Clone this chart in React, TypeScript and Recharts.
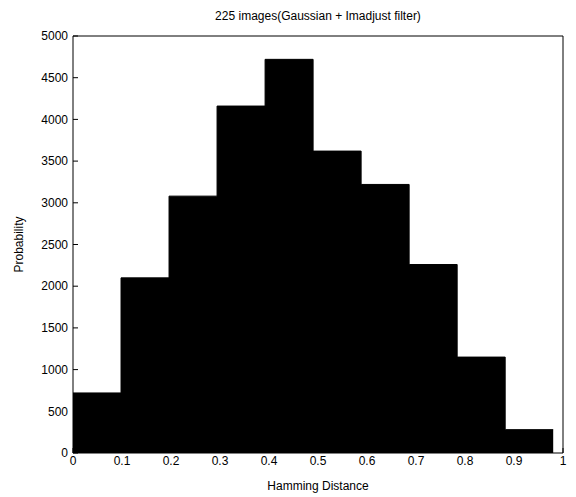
import React from 'react';
import { ComposedChart, Area, XAxis, YAxis, Label } from 'recharts';

// bin edges (0 .. 0.98) and counts per bin
const EDGES = [0, 0.098, 0.196, 0.294, 0.392, 0.49, 0.588, 0.686, 0.784, 0.882, 0.98];
const COUNTS = [720, 2100, 3080, 4160, 4720, 3620, 3220, 2260, 1150, 280];
const X_TICKS = [0, 0.1, 0.2, 0.3, 0.4, 0.5, 0.6, 0.7, 0.8, 0.9, 1];
const Y_TICKS = [0, 500, 1000, 1500, 2000, 2500, 3000, 3500, 4000, 4500, 5000];

const data = EDGES.map((x, i) => ({ x, count: COUNTS[Math.min(i, COUNTS.length - 1)] }));

const FONT = '"Liberation Sans", Arial, sans-serif';

export default function App() {
  return (
    <div style={{ position: 'absolute', left: 0, top: 0, background: '#fff', fontFamily: FONT }}>
      <ComposedChart width={576} height={497} data={data}
        margin={{ top: 35, right: 12, left: 33, bottom: 14 }}>
        <XAxis xAxisId="b" type="number" dataKey="x" domain={[0, 1]} ticks={X_TICKS}
          stroke="#000" tickSize={-5} height={30}
          tick={{ fill: '#000', fontSize: 12, fontFamily: FONT, dy: 6 }}>
          <Label value="Hamming Distance" position="bottom" offset={-2} style={{ fill: '#000', fontSize: 12, fontFamily: FONT }} />
        </XAxis>
        <XAxis xAxisId="t" orientation="top" type="number" dataKey="x" domain={[0, 1]} ticks={X_TICKS}
          stroke="#000" tickSize={-5} tick={false} height={1} />
        <YAxis yAxisId="l" domain={[0, 5000]} ticks={Y_TICKS} stroke="#000" tickSize={-5} width={40}
          tick={{ fill: '#000', fontSize: 12, fontFamily: FONT, dx: -8 }}>
          <Label value="Probability" angle={-90} position="left" offset={14} style={{ fill: '#000', fontSize: 12, fontFamily: FONT, textAnchor: 'middle' }} />
        </YAxis>
        <YAxis yAxisId="r" orientation="right" domain={[0, 5000]} ticks={Y_TICKS} stroke="#000" tickSize={-5} tick={false} width={1} />
        <Area xAxisId="b" yAxisId="l" type="stepAfter" dataKey="count" stroke="#000" fill="#000" fillOpacity={1} isAnimationActive={false} />
        <text x={318} y={20} textAnchor="middle" fontSize={12} fontFamily={FONT} fill="#000">225 images(Gaussian + Imadjust filter)</text>
      </ComposedChart>
    </div>
  );
}
